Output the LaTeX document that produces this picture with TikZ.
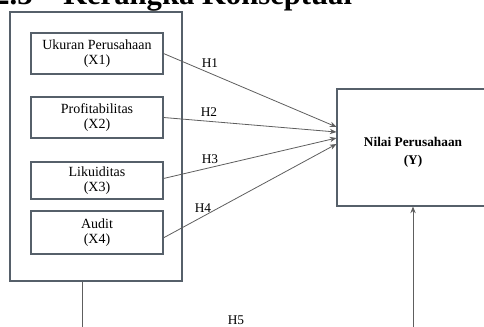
\documentclass[tikz,border=0pt]{standalone}
\usepackage{fontspec}
\setmainfont{Liberation Serif}
\usetikzlibrary{arrows.meta}

\definecolor{boxgray}{HTML}{56606A}
\definecolor{linegray}{HTML}{5E5E5E}

\begin{document}
\begin{tikzpicture}[x=0.75pt,y=-0.75pt,
   every node/.style={align=center,inner sep=0pt,
     font=\fontsize{10.5}{11.5}\selectfont},
   varbox/.style={draw=boxgray,line width=0.8pt,minimum width=99pt},
   hyp/.style={draw=linegray,line width=0.6pt,-{Stealth[length=5pt,width=4pt]}},
   hlabel/.style={font=\fontsize{10}{11}\selectfont}]

\useasboundingbox (0,0) rectangle (484,327);
\clip (0,0) rectangle (484,327);

\node[anchor=base west,font=\fontsize{23}{23}\selectfont\bfseries] (judul) at (-6,5)
    {2.3 -- Kerangka Konseptual};

% variabel independen
\node[draw=boxgray,line width=0.8pt,minimum width=129pt,minimum height=201.75pt]
    (luar) at (96,146.5) {};
\node[varbox,minimum height=30.75pt] (x1) at (97,53.5) {Ukuran Perusahaan\\(X1)};
\node[varbox,minimum height=30.75pt] (x2) at (97,117.5) {Profitabilitas\\(X2)};
\node[varbox,minimum height=27.75pt] (x3) at (97,180.5) {Likuiditas\\(X3)};
\node[varbox,minimum height=32.25pt] (x4) at (97,232.5) {Audit\\(X4)};

% variabel dependen
\node[draw=boxgray,line width=0.8pt,minimum width=114pt,minimum height=87.75pt]
    (y) at (413,147.5) {};
\node[font=\fontsize{10}{13.5}\selectfont\bfseries] (ylabel) at (413,152)
    {Nilai Perusahaan\\(Y)};

\draw[hyp] (x1.east) -- ([yshift=15.4pt]y.west);
\draw[hyp] (x2.east) -- ([yshift=11.6pt]y.west);
\draw[hyp] ([yshift=1.5pt]x3.east) -- ([yshift=7.1pt]y.west);
\draw[hyp] ([yshift=-4pt]x4.east) -- ([yshift=2.6pt]y.west);
\draw[hyp] ([xshift=-10.5pt]luar.south) -- ++(0,60) -| (y.south);

\node[hlabel] (h1) at (210,63) {H1};
\node[hlabel] (h2) at (209,112) {H2};
\node[hlabel] (h3) at (210,159) {H3};
\node[hlabel] (h4) at (203,208) {H4};
\node[hlabel] (h5) at (236,320) {H5};

\end{tikzpicture}
\end{document}
